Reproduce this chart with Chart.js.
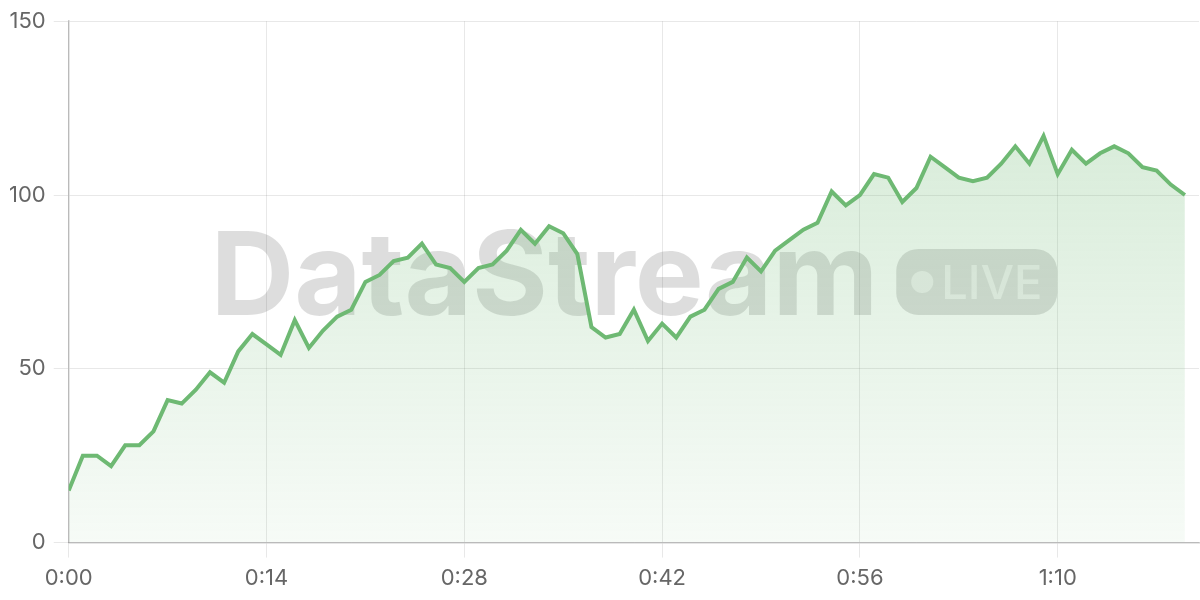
<!DOCTYPE html>
<html>
<head>
<meta charset="utf-8">
<script src="https://cdn.jsdelivr.net/npm/chart.js@4.4.1/dist/chart.umd.min.js"></script>
<style>
  body { margin: 0; background: #fff; }
  #wrap { width: 1200px; height: 600px; }
</style>
</head>
<body>
<div id="wrap"><canvas id="myChart"></canvas></div>
<script>
  // one reading per second, 0:00 .. 1:19
  var values = [
    15, 25, 25, 22, 28, 28, 32, 41, 40, 44,
    49, 46, 55, 60, 57, 54, 64, 56, 61, 65,
    67, 75, 77, 81, 82, 86, 80, 79, 75, 79,
    80, 84, 90, 86, 91, 89, 83, 62, 59, 60,
    67, 58, 63, 59, 65, 67, 73, 75, 82, 78,
    84, 87, 90, 92, 101, 97, 100, 106, 105, 98,
    102, 111, 108, 105, 104, 105, 109, 114, 109, 117,
    106, 113, 109, 112, 114, 112, 108, 107, 103, 100
  ];
  var tickLabels = ["0:00", "0:14", "0:28", "0:42", "0:56", "1:10"];
  var yTicks = [0, 50, 100, 150];

  var lineColor = "rgb(110, 185, 115)";
  var tickFont = { family: "Inter, 'Noto Sans', sans-serif", size: 22 };

  // big "DataStream  (o LIVE)" mark behind the line
  var watermark = {
    id: "watermark",
    beforeDatasetsDraw: function (chart) {
      var ctx = chart.ctx;
      var area = chart.chartArea;
      var cx = (area.left + area.right) / 2;
      var cy = (area.top + area.bottom) / 2;

      ctx.save();
      ctx.font = "bold 116px Inter, 'Noto Sans', sans-serif";
      var textW = ctx.measureText("DataStream").width;
      var badgeW = 161, badgeH = 66, gap = 18;
      var totalW = textW + gap + badgeW;
      var x0 = cx - totalW / 2;

      ctx.fillStyle = "rgba(0, 0, 0, 0.135)";
      ctx.textBaseline = "alphabetic";
      ctx.fillText("DataStream", x0, cy + 33);

      var bx = x0 + textW + gap;
      var by = cy - badgeH / 2;
      ctx.beginPath();
      ctx.roundRect(bx, by, badgeW, badgeH, 22);
      ctx.fill();

      ctx.fillStyle = "rgba(255, 255, 255, 0.55)";
      ctx.beginPath();
      ctx.arc(bx + 26, cy, 11, 0, Math.PI * 2);
      ctx.fill();
      ctx.font = "500 47px Inter, 'Noto Sans', sans-serif";
      ctx.fillText("LIVE", bx + 45, cy + 17);
      ctx.restore();
    }
  };

  var ctx = document.getElementById("myChart").getContext("2d");
  var myChart = new Chart(ctx, {
    type: "line",
    data: {
      datasets: [
        {
          data: values.map(function (v, i) {
            return { x: i, y: v };
          }),
          borderColor: lineColor,
          borderWidth: 4,
          pointRadius: 0,
          tension: 0,
          fill: "origin",
          backgroundColor: function (context) {
            var area = context.chart.chartArea;
            if (!area) return "rgba(110, 185, 115, 0.15)";
            var g = context.chart.ctx.createLinearGradient(0, area.top, 0, area.bottom);
            g.addColorStop(0, "rgba(110, 185, 115, 0.32)");
            g.addColorStop(1, "rgba(110, 185, 115, 0.06)");
            return g;
          },
        },
      ],
    },
    options: {
      responsive: true,
      maintainAspectRatio: false,
      animation: false,
      layout: { padding: { left: 1, top: 19, right: 1, bottom: 0 } },
      plugins: {
        legend: { display: false },
        tooltip: { enabled: false },
      },
      scales: {
        x: {
          type: "linear",
          min: 0,
          max: 80,
          grid: { color: "rgba(0, 0, 0, 0.09)", tickLength: 15 },
          border: { color: "rgba(0, 0, 0, 0.2)", width: 1.5 },
          ticks: {
            stepSize: 14,
            includeBounds: false,
            maxRotation: 0,
            padding: 8,
            color: "#666",
            font: tickFont,
            callback: function (value) {
              return tickLabels[value / 14];
            },
          },
        },
        y: {
          min: 0,
          max: 150,
          grid: { color: "rgba(0, 0, 0, 0.09)", tickLength: 15 },
          border: { color: "rgba(0, 0, 0, 0.2)", width: 1.5 },
          afterBuildTicks: function (scale) {
            scale.ticks = yTicks.map(function (v) {
              return { value: v };
            });
          },
          ticks: {
            padding: 8,
            color: "#666",
            font: tickFont,
          },
        },
      },
    },
    plugins: [watermark],
  });
</script>
</body>
</html>
